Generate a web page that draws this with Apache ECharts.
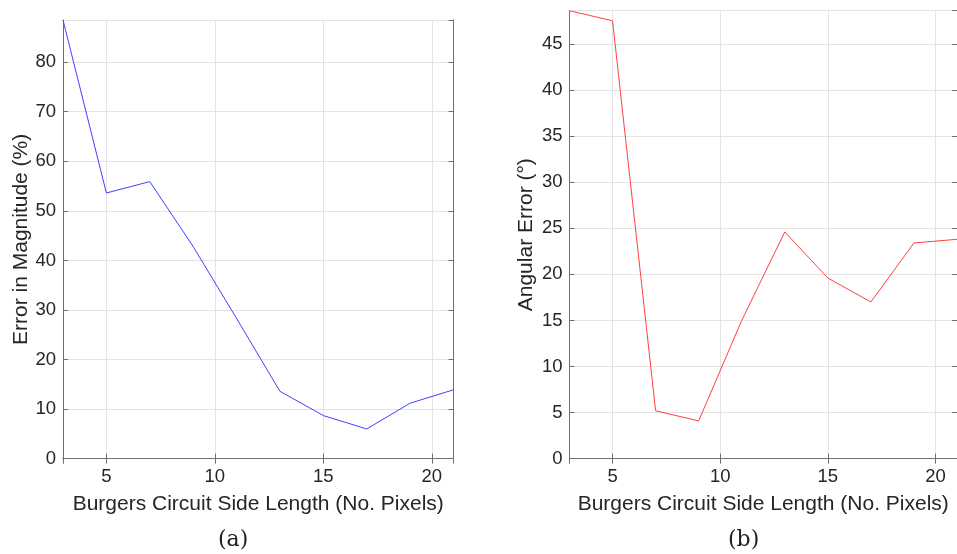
<!DOCTYPE html>
<html>
<head>
<meta charset="utf-8">
<script src="https://cdn.jsdelivr.net/npm/echarts@6/dist/echarts.min.js"></script>
<style>html,body{margin:0;padding:0;background:#fff}#c{width:957px;height:554px}</style>
</head>
<body>
<div id="c"></div>
<script>
var sideLength = [3, 5, 7, 9, 11, 13, 15, 17, 19, 21];
var magnitudeError = [88.5, 53.6, 55.9, 42.8, 28.3, 13.6, 8.7, 6.0, 11.2, 13.9];
var angularError = [48.6, 47.5, 5.2, 4.1, 15.0, 24.6, 19.6, 17.0, 23.4, 23.8];
var xTicks = [5, 10, 15, 20];
var xLabel = 'Burgers Circuit Side Length (No. Pixels)';
var yLabelA = 'Error in Magnitude (%)';
var yLabelB = 'Angular Error (°)';
var captions = ['(a)', '(b)'];

var FONT = 'Liberation Sans';
var TXT = '#262626';
var AX = '#707070';
var GRIDC = '#e4e4e4';

function pairs(xs, ys) { return xs.map(function (x, i) { return [x, ys[i]]; }); }

function xAxisPair(gi) {
  var base = {
    gridIndex: gi, type: 'value', min: 3, max: 21, splitNumber: 4,
    axisLine: { show: true, lineStyle: { color: AX, width: 1 } },
    axisTick: { show: true, inside: true, length: 5, lineStyle: { color: AX } }
  };
  var bottom = Object.assign({}, base, {
    position: 'bottom',
    name: xLabel, nameLocation: 'middle', nameGap: 35,
    nameTextStyle: { fontFamily: FONT, fontSize: 21, color: TXT },
    axisLabel: {
      show: true, margin: 9, fontFamily: FONT, fontSize: 18.5, color: TXT,
      showMinLabel: false, showMaxLabel: false,
      formatter: function (v) { return xTicks.indexOf(v) >= 0 ? String(v) : ''; }
    },
    splitLine: { show: true, lineStyle: { color: GRIDC, width: 1 } }
  });
  var top = Object.assign({}, base, {
    position: 'top', axisLabel: { show: false }, splitLine: { show: false }
  });
  return [bottom, top];
}

function yAxisPair(gi, max, interval, name, gap) {
  var base = {
    gridIndex: gi, type: 'value', min: 0, max: max, interval: interval,
    axisLine: { show: true, lineStyle: { color: AX, width: 1 } },
    axisTick: { show: true, inside: true, length: 5, lineStyle: { color: AX } }
  };
  var left = Object.assign({}, base, {
    position: 'left',
    name: name, nameLocation: 'middle', nameGap: gap,
    nameTextStyle: { fontFamily: FONT, fontSize: 21, color: TXT },
    axisLabel: {
      show: true, margin: 7, fontFamily: FONT, fontSize: 18.5, color: TXT,
      showMaxLabel: false
    },
    splitLine: { show: true, lineStyle: { color: GRIDC, width: 1 } }
  });
  var right = Object.assign({}, base, {
    position: 'right', axisLabel: { show: false }, splitLine: { show: false }
  });
  return [left, right];
}

var xa = xAxisPair(0).concat(xAxisPair(1));
var ya = yAxisPair(0, 88.5, 10, yLabelA, 31).concat(yAxisPair(1, 48.6, 5, yLabelB, 33));

var chart = echarts.init(document.getElementById('c'), null, { renderer: 'canvas' });
chart.setOption({
  backgroundColor: '#ffffff',
  animation: false,
  grid: [
    { left: 63, right: 503.5, top: 20, bottom: 95.3, containLabel: false },
    { left: 569.5, right: -7.2, top: 10.7, bottom: 95.3, containLabel: false }
  ],
  xAxis: xa,
  yAxis: ya,
  series: [
    {
      type: 'line', xAxisIndex: 0, yAxisIndex: 0,
      data: pairs(sideLength, magnitudeError),
      showSymbol: false, symbol: 'none',
      lineStyle: { color: '#4040ff', width: 1 }
    },
    {
      type: 'line', xAxisIndex: 2, yAxisIndex: 2,
      data: pairs(sideLength, angularError),
      showSymbol: false, symbol: 'none',
      lineStyle: { color: '#ff4040', width: 1 }
    }
  ],
  graphic: [
    { type: 'text', left: 218, top: 529, style: { text: captions[0], font: '22px "DejaVu Serif"', fill: '#222' } },
    { type: 'text', left: 728, top: 529, style: { text: captions[1], font: '22px "DejaVu Serif"', fill: '#222' } }
  ]
});
</script>
</body>
</html>
